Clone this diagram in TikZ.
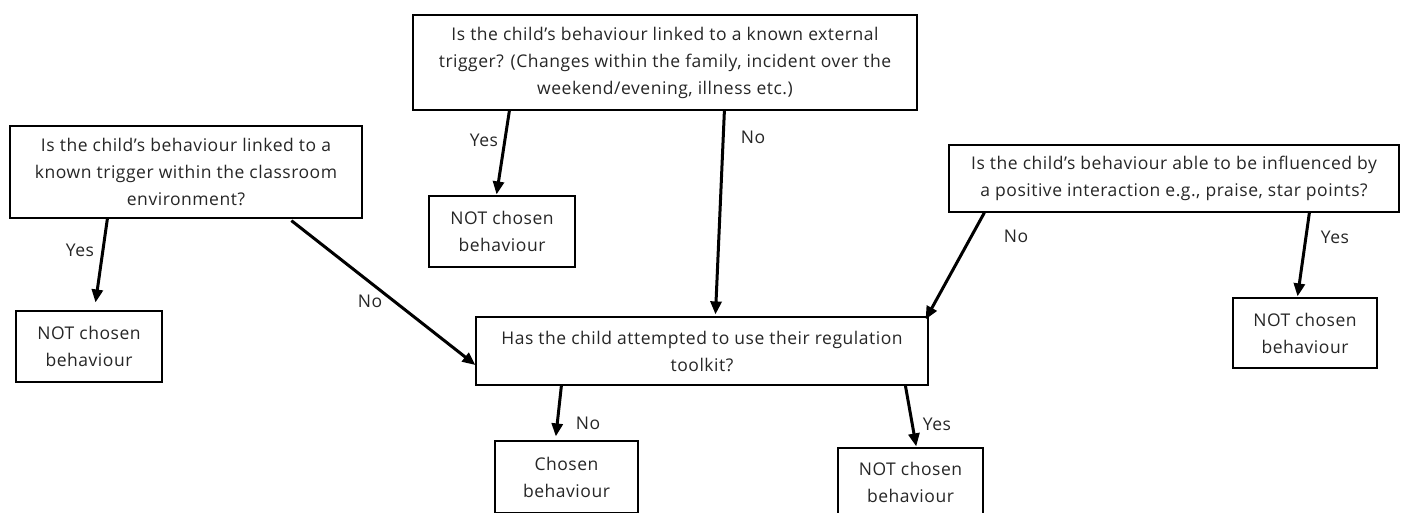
\documentclass[tikz,border=0pt]{standalone}
\usepackage{fontspec}
\setmainfont{Open Sans}[LetterSpace=3]
\usetikzlibrary{arrows.meta,calc}
\tikzset{
  qbox/.style={draw=black, line width=1.2pt, align=center, inner sep=0pt, text=black!85,
    font=\fontsize{17.5}{27}\selectfont},
  arr/.style={line width=3pt, -{Triangle[length=13pt,width=11pt]}},
  lbl/.style={font=\fontsize{17.5}{20}\selectfont, text=black!85, inner sep=0pt},
}
\begin{document}
\begin{tikzpicture}[x=1pt,y=-1pt]
\useasboundingbox[fill=white] (0,0) rectangle (1405,512);
% question boxes
\node[qbox, minimum width=352pt, minimum height=92pt] (A) at (186,172)
  {Is the child’s behaviour linked to a\\known trigger within the classroom\\environment?};
\node[qbox, minimum width=504pt, minimum height=95pt] (B) at (665,62.5)
  {Is the child’s behaviour linked to a known external\\trigger? (Changes within the family, incident over the\\weekend/evening, illness etc.)};
\node[qbox, minimum width=450pt, minimum height=67pt] (C) at (1174,178.5)
  {Is the child’s behaviour able to be influenced by\\a positive interaction e.g., praise, star points?};
\node[qbox, minimum width=452pt, minimum height=68pt] (D) at (702,351)
  {Has the child attempted to use their regulation\\toolkit?};
% outcome boxes
\node[qbox, minimum width=146pt, minimum height=71pt] (N1) at (89,346.5) {NOT chosen\\behaviour};
\node[qbox, minimum width=146pt, minimum height=71pt] (N2) at (502,231.5) {NOT chosen\\behaviour};
\node[qbox, minimum width=144pt, minimum height=70pt] (N3) at (1305,333) {NOT chosen\\behaviour};
\node[qbox, minimum width=143pt, minimum height=72pt] (CH) at (566.5,477) {Chosen\\behaviour};
\node[qbox, minimum width=145pt, minimum height=68pt] (N4) at (910.5,482) {NOT chosen\\behaviour};
% connectors
\draw[arr, shorten >=8pt] ([xshift=98pt]A.south west) -- ([xshift=79pt]N1.north west);
\draw[arr] ([xshift=282pt,yshift=-2pt]A.south west) -- ([yshift=-14pt]D.west);
\draw[arr, shorten >=1pt] ([xshift=97pt]B.south west) -- ([xshift=68pt]N2.north west);
\draw[arr, shorten >=2pt] ([xshift=312pt]B.south west) -- ([xshift=240pt]D.north west);
\draw[arr] ([xshift=36pt]C.south west) -- ([xshift=-3pt,yshift=-3pt]D.north east);
\draw[arr, shorten >=1pt] ([xshift=361pt]C.south west) -- ([xshift=65pt]N3.north west);
\draw[arr, shorten >=4pt] ([xshift=86pt]D.south west) -- ([xshift=61pt]CH.north west);
\draw[arr, shorten >=1pt] ([xshift=430pt]D.south west) -- ([xshift=79pt]N4.north west);
% labels
\node[lbl] (l1) at (80,250) {Yes};
\node[lbl] (l2) at (370,301) {No};
\node[lbl] (l3) at (484,140) {Yes};
\node[lbl] (l4) at (753,137) {No};
\node[lbl] (l5) at (1016,236) {No};
\node[lbl] (l6) at (1335,237) {Yes};
\node[lbl] (l7) at (588,423) {No};
\node[lbl] (l8) at (937,424) {Yes};
\end{tikzpicture}
\end{document}
